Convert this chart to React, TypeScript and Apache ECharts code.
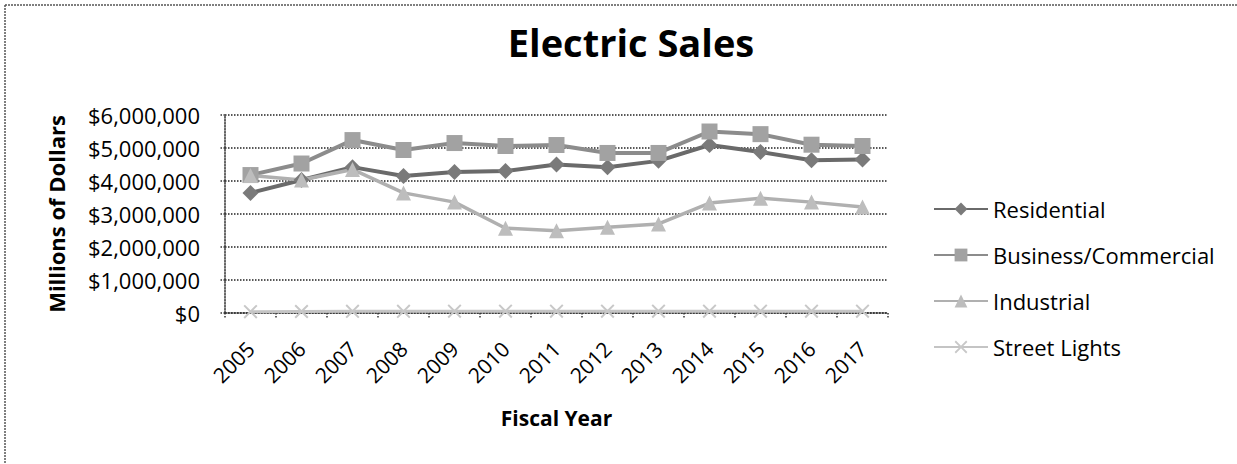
import React, { useEffect, useRef } from "react";
import * as echarts from "echarts";

const years = ["2005","2006","2007","2008","2009","2010","2011","2012","2013","2014","2015","2016","2017"];
const residential = [3640000, 4030000, 4420000, 4150000, 4270000, 4300000, 4500000, 4420000, 4610000, 5090000, 4880000, 4630000, 4650000];
const business = [4180000, 4530000, 5240000, 4940000, 5150000, 5060000, 5090000, 4850000, 4850000, 5500000, 5420000, 5100000, 5060000];
const industrial = [4170000, 4030000, 4350000, 3640000, 3360000, 2570000, 2490000, 2600000, 2700000, 3330000, 3480000, 3360000, 3210000];
const streetLights = [40000, 45000, 50000, 50000, 55000, 55000, 55000, 55000, 55000, 55000, 55000, 55000, 55000];
const yTicks = [0, 1000000, 2000000, 3000000, 4000000, 5000000, 6000000];

const FONT = "'Open Sans', Lato, sans-serif";
const CROSS = "path://M0,1 L1,0 L5,4 L9,0 L10,1 L6,5 L10,9 L9,10 L5,6 L1,10 L0,9 L4,5 Z";

function fmt(v: number): string {
  return "$" + v.toLocaleString("en-US");
}

export default function App() {
  const ref = useRef<HTMLDivElement>(null);
  useEffect(() => {
    if (!ref.current) return;
    const chart = echarts.init(ref.current, undefined, { renderer: "svg" });
    const mk = (name: string, data: number[], color: string, lineColor: string, symbol: string, size: number, width: number) => ({
      name,
      type: "line",
      data,
      symbol,
      symbolSize: size,
      showSymbol: true,
      lineStyle: { color: lineColor, width },
      itemStyle: { color, borderColor: color, borderWidth: 0 },
    });
    chart.setOption({
      animation: false,
      backgroundColor: "#ffffff",
      title: {
        text: "Electric Sales",
        left: 626,
        top: 18,
        textAlign: "center",
        textStyle: { fontFamily: FONT, fontWeight: "bold", fontSize: 38, color: "#000" },
      },
      grid: { left: 225, right: 349, top: 115, bottom: 151, containLabel: false },
      legend: {
        orient: "vertical",
        left: 928,
        top: 193,
        itemWidth: 54,
        itemHeight: 16,
        itemGap: 24,
        textStyle: { fontFamily: FONT, fontSize: 22, lineHeight: 22, color: "#000", padding: [0, 0, 0, 0] },
        data: ["Residential", "Business/Commercial", "Industrial", "Street Lights"],
      },
      xAxis: {
        type: "category",
        data: years,
        boundaryGap: true,
        name: "Fiscal Year",
        nameLocation: "middle",
        nameGap: 94,
        nameTextStyle: { fontFamily: FONT, fontWeight: "bold", fontSize: 21, color: "#000" },
        axisLine: { lineStyle: { color: "#333", type: "dotted", width: 1.5 } },
        axisTick: { show: true, alignWithLabel: false, length: 6, lineStyle: { color: "#333", type: "dotted", width: 1.5 } },
        axisLabel: { rotate: 45, fontFamily: FONT, fontSize: 21, color: "#000", margin: 32 },
        splitLine: { show: false },
      },
      yAxis: {
        type: "value",
        min: 0,
        max: 6000000,
        interval: 1000000,
        name: "Millions of Dollars",
        nameLocation: "middle",
        nameGap: 158,
        nameTextStyle: { fontFamily: FONT, fontWeight: "bold", fontSize: 22, color: "#000" },
        axisLine: { show: true, lineStyle: { color: "#333", type: "dotted", width: 1.5 } },
        axisTick: { show: true, inside: false, length: 6, lineStyle: { color: "#333", type: "dotted", width: 1.5 } },
        axisLabel: {
          fontFamily: FONT,
          fontSize: 22,
          color: "#000",
          margin: 25,
          formatter: (v: number) => (yTicks.includes(v) ? fmt(v) : ""),
        },
        splitLine: { show: true, lineStyle: { color: "#222", type: "dotted", width: 1.5 } },
      },
      graphic: [
        { type: "line", shape: { x1: 5, y1: 5, x2: 1237, y2: 5 }, style: { stroke: "#555", lineWidth: 1.5, lineDash: [2, 1] } },
        { type: "line", shape: { x1: 5, y1: 5, x2: 5, y2: 464 }, style: { stroke: "#555", lineWidth: 1.5, lineDash: [2, 1] } },
      ],
      series: [
        mk("Residential", residential, "#7a7a7a", "#6a6a6a", "diamond", 16, 4),
        mk("Business/Commercial", business, "#a2a2a2", "#8c8c8c", "rect", 16, 4),
        mk("Industrial", industrial, "#bdbdbd", "#b0b0b0", "triangle", 15, 3.5),
        mk("Street Lights", streetLights, "#c8c8c8", "#c4c4c4", CROSS, 14, 3),
      ],
    });
    return () => chart.dispose();
  }, []);
  return <div ref={ref} style={{ position: "fixed", left: 0, top: 0, width: 1237, height: 464, background: "#fff" }} />;
}
